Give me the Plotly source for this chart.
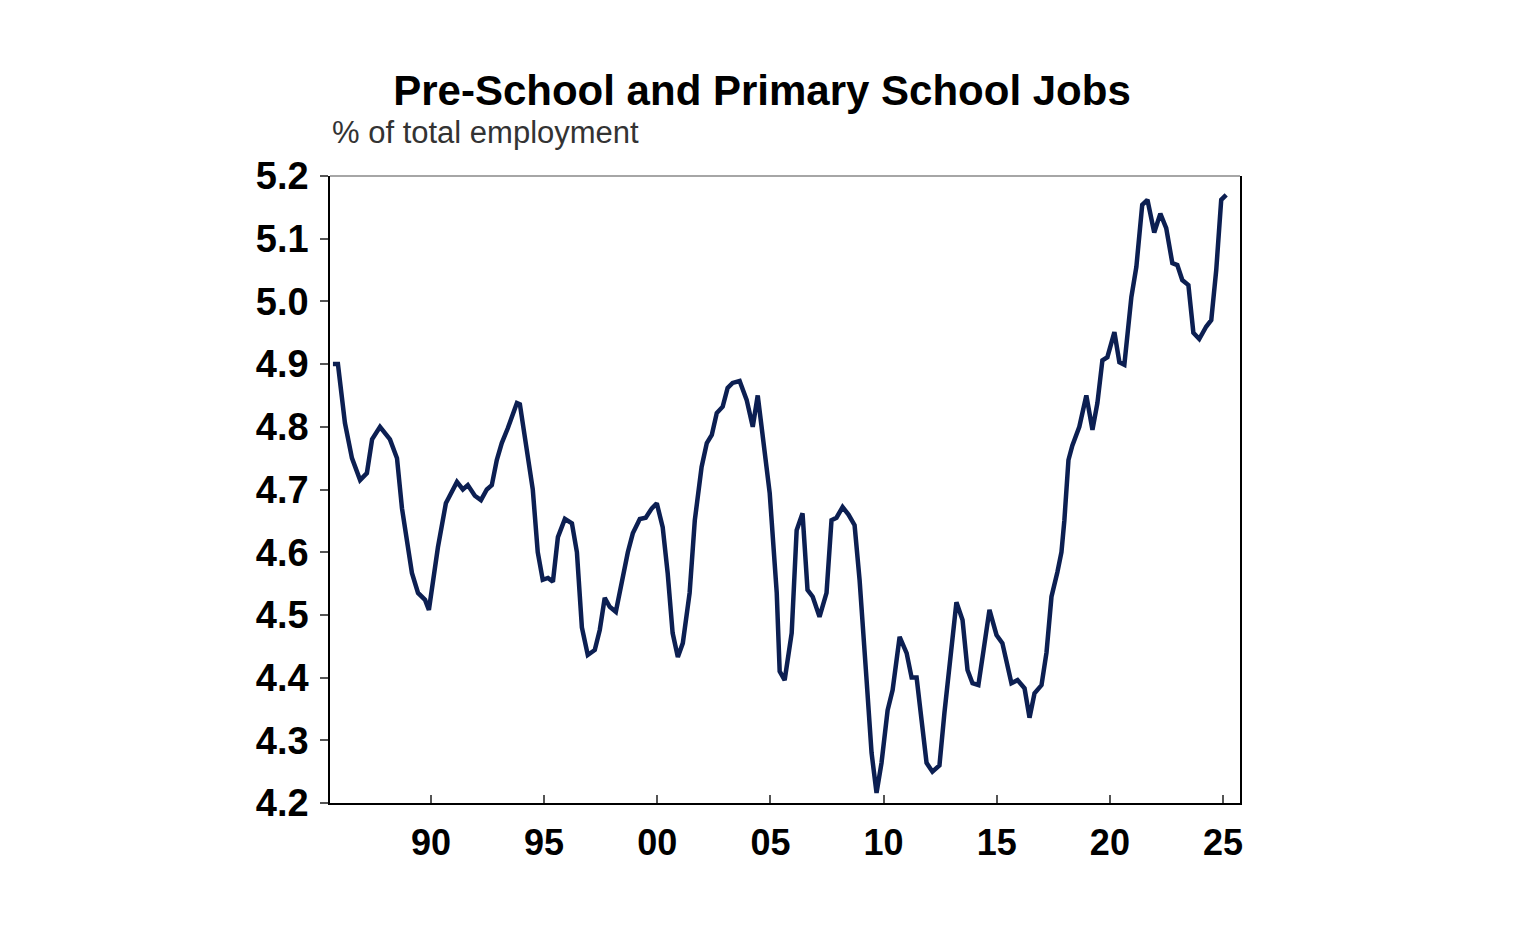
import plotly.graph_objects as go

# Pre-school and primary school jobs, % of total employment
years = [
    1985.67, 1985.89, 1986.20, 1986.51, 1986.87, 1987.17, 1987.40, 1987.75, 1988.19, 1988.50,
    1988.72, 1989.16, 1989.43, 1989.74, 1989.91, 1990.31, 1990.66, 1991.15, 1991.41, 1991.63,
    1991.94, 1992.21, 1992.47, 1992.69, 1992.91, 1993.13, 1993.40, 1993.80, 1993.93, 1994.24,
    1994.50, 1994.72, 1994.94, 1995.17, 1995.39, 1995.61, 1995.92, 1996.23, 1996.45, 1996.67,
    1996.93, 1997.24, 1997.46, 1997.68, 1997.90, 1998.17, 1998.43, 1998.70, 1998.92, 1999.23,
    1999.49, 1999.76, 1999.98, 2000.24, 2000.46, 2000.68, 2000.91, 2001.13, 2001.43, 2001.66,
    2001.96, 2002.19, 2002.41, 2002.63, 2002.89, 2003.11, 2003.33, 2003.64, 2003.95, 2004.22,
    2004.44, 2004.66, 2004.97, 2005.28, 2005.41, 2005.63, 2005.94, 2006.16, 2006.42, 2006.64,
    2006.87, 2007.17, 2007.48, 2007.70, 2007.92, 2008.19, 2008.45, 2008.72, 2008.94, 2009.25,
    2009.47, 2009.69, 2009.91, 2010.18, 2010.40, 2010.71, 2011.02, 2011.24, 2011.46, 2011.68,
    2011.90, 2012.16, 2012.47, 2012.69, 2013.00, 2013.22, 2013.49, 2013.71, 2013.93, 2014.19,
    2014.42, 2014.68, 2014.99, 2015.25, 2015.65, 2015.92, 2016.23, 2016.45, 2016.67, 2016.98,
    2017.20, 2017.42, 2017.68, 2017.86, 2017.99, 2018.17, 2018.34, 2018.65, 2018.96, 2019.23,
    2019.45, 2019.67, 2019.89, 2020.20, 2020.42, 2020.64, 2020.95, 2021.17, 2021.43, 2021.66,
    2021.96, 2022.23, 2022.49, 2022.76, 2022.98, 2023.20, 2023.47, 2023.69, 2023.95, 2024.26,
    2024.48, 2024.70, 2024.92, 2025.14,
]
share = [
    4.900, 4.900, 4.806, 4.750, 4.715, 4.726, 4.780, 4.800, 4.780, 4.750,
    4.670, 4.567, 4.535, 4.524, 4.508, 4.608, 4.678, 4.712, 4.700, 4.707,
    4.690, 4.683, 4.700, 4.707, 4.747, 4.774, 4.798, 4.838, 4.836, 4.768,
    4.700, 4.600, 4.556, 4.559, 4.553, 4.624, 4.653, 4.646, 4.600, 4.480,
    4.436, 4.444, 4.476, 4.527, 4.513, 4.505, 4.556, 4.600, 4.630, 4.653,
    4.655, 4.670, 4.678, 4.640, 4.567, 4.471, 4.433, 4.455, 4.535, 4.651,
    4.736, 4.774, 4.787, 4.822, 4.832, 4.862, 4.870, 4.873, 4.843, 4.800,
    4.850, 4.784, 4.694, 4.535, 4.410, 4.396, 4.471, 4.635, 4.662, 4.540,
    4.529, 4.497, 4.535, 4.651, 4.655, 4.672, 4.660, 4.643, 4.556, 4.396,
    4.280, 4.216, 4.264, 4.348, 4.380, 4.465, 4.439, 4.400, 4.400, 4.332,
    4.264, 4.250, 4.260, 4.344, 4.449, 4.520, 4.492, 4.412, 4.391, 4.388,
    4.444, 4.508, 4.468, 4.455, 4.391, 4.396, 4.383, 4.336, 4.375, 4.388,
    4.440, 4.529, 4.568, 4.600, 4.651, 4.747, 4.770, 4.800, 4.850, 4.795,
    4.838, 4.906, 4.911, 4.951, 4.903, 4.899, 5.007, 5.055, 5.154, 5.162,
    5.110, 5.140, 5.117, 5.061, 5.058, 5.034, 5.026, 4.950, 4.940, 4.960,
    4.970, 5.050, 5.162, 5.170,
]

x_ticks = [1990, 1995, 2000, 2005, 2010, 2015, 2020, 2025]
x_labels = ["90", "95", "00", "05", "10", "15", "20", "25"]
y_ticks = [4.2, 4.3, 4.4, 4.5, 4.6, 4.7, 4.8, 4.9, 5.0, 5.1, 5.2]

font = "Arial, Liberation Sans, sans-serif"

# page body has an 8px margin, so the figure is a bit smaller than the window
W, H = 1520, 917

fig = go.Figure()
fig.add_trace(go.Scatter(x=years, y=share, mode="lines",
                         line=dict(color="#0c1f52", width=4.5),
                         showlegend=False, hoverinfo="x+y"))

fig.update_layout(
    width=W, height=H,
    margin=dict(l=322, r=288, t=168, b=122),
    paper_bgcolor="white", plot_bgcolor="white",
    font=dict(family=font, color="black"),
    title=dict(text="<b>Pre-School and Primary School Jobs</b>",
               x=754 / W, xref="container", xanchor="center",
               y=1 - 82 / H, yref="container", yanchor="middle",
               font=dict(size=42, color="black")),
)

fig.update_xaxes(range=[1985.54, 2025.75], tickvals=x_ticks, ticktext=x_labels,
                 ticks="inside", ticklen=8, tickcolor="#555", tickwidth=1.5,
                 showgrid=False, zeroline=False,
                 showline=True, linecolor="black", linewidth=1.5,
                 tickfont=dict(size=36, family=font, color="black", weight="bold"),
                 ticklabelstandoff=7)
fig.update_yaxes(range=[4.2, 5.2], tickvals=y_ticks, tickformat=".1f",
                 ticks="outside", ticklen=8, tickcolor="#555", tickwidth=1.5,
                 showgrid=False, zeroline=False,
                 showline=True, linecolor="black", linewidth=1.5, mirror=True,
                 tickfont=dict(size=38, family=font, color="black", weight="bold"),
                 ticklabelstandoff=4)

# grey top border
fig.add_shape(type="line", xref="paper", yref="paper", x0=0, x1=1, y0=1, y1=1,
              line=dict(color="#888", width=1.5))

fig.add_annotation(text="% of total employment", xref="paper", yref="paper",
                   x=0, y=(795 - 124) / 627, xanchor="left", yanchor="middle",
                   showarrow=False, font=dict(size=31, color="#333", family=font))

fig.write_html("out.html")
